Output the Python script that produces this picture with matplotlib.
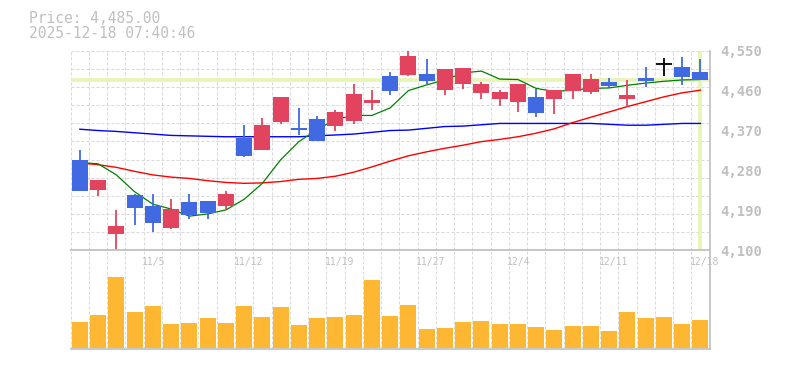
"""日足チャート（ローソク足 + 移動平均 + 出来高）の再現。"""

import numpy as np
import matplotlib
matplotlib.use('Agg')
import matplotlib.pyplot as plt
from matplotlib.transforms import blended_transform_factory

# 取引日
dates = ['10/29', '10/30', '10/31', '11/4', '11/5', '11/6', '11/7',
         '11/10', '11/11', '11/12', '11/13', '11/14',
         '11/17', '11/18', '11/19', '11/20', '11/21',
         '11/25', '11/26', '11/27', '11/28',
         '12/1', '12/2', '12/3', '12/4', '12/5',
         '12/8', '12/9', '12/10', '12/11', '12/12',
         '12/15', '12/16', '12/17', '12/18']

opens = [4304, 4236, 4137, 4225, 4200, 4151, 4209, 4211, 4201, 4353,
         4327, 4389, 4376, 4396, 4381, 4392, 4432, 4493, 4495, 4497,
         4461, 4475, 4455, 4441, 4434, 4446, 4441, 4459, 4457, 4480,
         4441, 4489, 4520, 4513, 4502]
highs = [4326, 4258, 4191, 4226, 4227, 4216, 4227, 4212, 4234, 4382,
         4398, 4446, 4421, 4402, 4416, 4475, 4461, 4502, 4551, 4531,
         4509, 4511, 4480, 4461, 4475, 4464, 4461, 4497, 4498, 4488,
         4484, 4513, 4534, 4536, 4531]
lows = [4234, 4223, 4101, 4157, 4142, 4149, 4171, 4171, 4192, 4310,
        4326, 4385, 4360, 4347, 4370, 4385, 4416, 4450, 4493, 4475,
        4450, 4464, 4441, 4425, 4412, 4400, 4407, 4441, 4452, 4466,
        4423, 4468, 4493, 4473, 4485]
closes = [4234, 4258, 4155, 4196, 4162, 4193, 4179, 4183, 4227, 4313,
          4382, 4445, 4371, 4347, 4412, 4452, 4439, 4459, 4538, 4482,
          4509, 4511, 4475, 4457, 4475, 4410, 4461, 4497, 4486, 4471,
          4450, 4482, 4520, 4491, 4485]

# 移動平均
ma_short = [4298, 4295, 4270, 4232, 4204, 4193, 4177, 4182, 4191, 4215,
            4251, 4304, 4345, 4372, 4395, 4404, 4404, 4421, 4460, 4473,
            4484, 4500, 4504, 4486, 4485, 4465, 4458, 4461, 4465, 4466,
            4472, 4477, 4481, 4484, 4485]
ma_mid = [4297, 4293, 4287, 4278, 4270, 4265, 4262, 4257, 4253, 4251,
          4252, 4255, 4260, 4262, 4267, 4276, 4288, 4301, 4313, 4322,
          4330, 4337, 4345, 4350, 4356, 4364, 4374, 4388, 4400, 4412,
          4424, 4435, 4446, 4455, 4461]
ma_long = [4373, 4370, 4368, 4365, 4362, 4359, 4358, 4357, 4356, 4356,
           4356, 4356, 4356, 4358, 4360, 4362, 4366, 4370, 4371, 4375,
           4379, 4380, 4383, 4386, 4386, 4386, 4386, 4386, 4386, 4384,
           4382, 4382, 4384, 4386, 4386]

# 出来高（相対値）
volumes = [26, 33, 71, 36, 42, 24, 25, 30, 25, 42, 31, 41, 23, 30, 31,
           33, 68, 32, 43, 19, 20, 26, 27, 24, 24, 21, 18, 22, 22, 17,
           36, 30, 31, 24, 28]

price_ticks = [4100, 4190, 4280, 4370, 4460, 4550]
last_price = 4485.00
timestamp = '2025-12-18 07:40:46'

UP = '#e2445f'
DOWN = '#4169e1'
GRID = '#d9d9d9'
SPINE = '#c4c4c4'
TEXT = '#c0c0c0'

plt.rcParams['font.family'] = ['DejaVu Sans Mono']

fig = plt.figure(figsize=(7.85, 3.7), dpi=100)
ax = fig.add_axes([0.0901, 0.3235, 0.8138, 0.5395])
axv = fig.add_axes([0.0901, 0.0559, 0.8138, 0.2676])

n = len(dates)
x = np.arange(n)

# グリッド（足の境界に縦線、価格方向は 11 分割）
for a in (ax, axv):
    for b in np.arange(n) - 0.5:
        a.axvline(b, color=GRID, lw=0.75, ls=(0, (2.9, 1.9)), zorder=0)
for g in np.linspace(4100, 4550, 12)[1:]:
    ax.axhline(g, color=GRID, lw=0.75, ls=(0, (2.9, 1.9)), zorder=0)

# 現在値ライン・カーソル
ax.axhline(last_price, color='#e6f5b4', lw=2.6, zorder=1)
ax.axvline(x[-1], color='#e6f5b4', lw=2.6, zorder=1)

# 移動平均
ax.plot(x, ma_long, color='#0000ff', lw=1.0, zorder=2)
ax.plot(x, ma_mid, color='#ff0000', lw=1.0, zorder=2)
ax.plot(x, ma_short, color='#008000', lw=0.9, zorder=2)

# ローソク足
for i in range(n):
    o, h, l, c = opens[i], highs[i], lows[i], closes[i]
    if c > o:
        col = UP
    elif c < o:
        col = DOWN
    else:
        col = 'black'
    ax.vlines(x[i], l, h, color=col, lw=1.3, zorder=3)
    if c == o:
        ax.hlines(o, x[i] - 0.44, x[i] + 0.44, color=col, lw=1.3, zorder=3)
    else:
        ax.bar(x[i], abs(c - o), bottom=min(o, c), width=0.88, color=col,
               zorder=4)

ax.set_xlim(-0.5, n - 0.5)
ax.set_ylim(4100, 4550)
ax.set_xticks([])
ax.yaxis.tick_right()
ax.set_yticks(price_ticks)
ax.set_yticklabels([f'{v:,}' for v in price_ticks])
ax.tick_params(axis='y', length=0, pad=7.5, labelsize=10, labelcolor=TEXT)
for lab in ax.get_yticklabels():
    lab.set_fontweight('bold')
for s in ('top', 'left'):
    ax.spines[s].set_visible(False)
for s in ('right', 'bottom'):
    ax.spines[s].set_color(SPINE)
    ax.spines[s].set_linewidth(1.3)

# 出来高
axv.bar(x, volumes, width=0.88, color='#fdb733', zorder=2)
axv.set_xlim(-0.5, n - 0.5)
axv.set_ylim(-1.3, 97.7)
axv.set_xticks([])
axv.set_yticks([])
axv.spines['left'].set_visible(False)
for s in ('top', 'right', 'bottom'):
    axv.spines[s].set_color(SPINE)
    axv.spines[s].set_linewidth(1.3)

# 日付ラベル（5 営業日ごと）
tr = blended_transform_factory(axv.transData, axv.transAxes)
for i in range(4, n, 5):
    axv.text(i - 0.58, 0.882, dates[i], transform=tr, ha='left', va='center',
             fontsize=7, color=TEXT, zorder=5)

fig.text(29.3 / 785, 1 - 18.3 / 370, f'Price: {last_price:,.2f}',
         fontsize=10.5, color=TEXT, va='center')
fig.text(29.3 / 785, 1 - 33.3 / 370, timestamp,
         fontsize=10.5, color=TEXT, va='center')

fig.savefig('out.png', dpi=100)
